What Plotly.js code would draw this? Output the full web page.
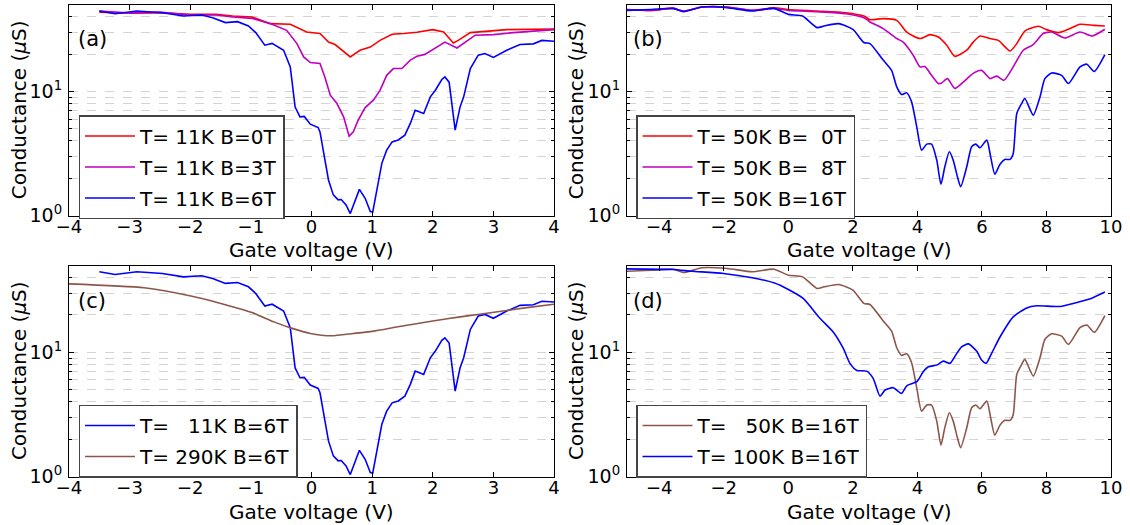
<!DOCTYPE html>
<html>
<head>
<meta charset="utf-8">
<script src="https://cdn.plot.ly/plotly-3.0.1.min.js"></script>
<style>html,body{margin:0;padding:0;background:#fff;}#chart{width:1130px;height:525px;}</style>
</head>
<body>
<div id="chart"></div>
<script>
// ---------- data (gate voltage V, conductance µS) ----------
// Panel (a): T = 11 K
const a_red_v  = [-3.5,-3.0,-2.5,-2.0,-1.57,-1.3,-0.98,-0.68,-0.35,-0.24,-0.08,0.14,0.28,0.39,0.5,0.64,0.8,0.97,1.13,1.33,1.52,1.74,2.0,2.18,2.34,2.42,2.62,2.89,3.22,4.0];
const a_red_g  = [43.6,42.8,43.1,41.8,41.8,40.5,39.8,35.2,34.8,33.0,30.1,29.3,25.0,23.9,21.5,19.0,21.5,22.8,25.8,28.9,29.3,30.0,31.5,30.1,24.6,25.8,29.8,30.5,31.5,31.9];
const a_mag_v  = [-3.5,-3.0,-2.5,-2.0,-1.57,-1.3,-0.98,-0.68,-0.41,-0.24,-0.13,-0.02,0.14,0.22,0.31,0.42,0.53,0.62,0.69,0.77,0.885,1.02,1.13,1.24,1.35,1.49,1.63,1.74,1.87,2.01,2.2,2.4,2.51,2.7,3.0,3.33,4.0];
const a_mag_g  = [44.5,42.8,43.6,41.3,41.3,39.8,38.8,35.2,31.1,24.3,19.0,17.1,16.8,13.1,9.34,8.0,6.25,4.37,4.73,5.88,7.43,8.51,10.2,13.5,15.3,15.3,17.9,19.2,19.9,22.0,25.0,22.4,24.3,28.4,28.7,29.8,31.5];
const a_blue_v = [-3.5,-3.24,-2.88,-2.46,-2.11,-1.81,-1.63,-1.42,-1.22,-1.04,-0.92,-0.77,-0.65,-0.46,-0.35,-0.27,-0.19,-0.12,-0.02,0.11,0.14,0.2,0.28,0.36,0.44,0.49,0.57,0.64,0.72,0.79,0.885,0.97,1.01,1.09,1.16,1.24,1.33,1.43,1.54,1.63,1.71,1.85,1.96,2.04,2.15,2.2,2.27,2.37,2.45,2.51,2.62,2.75,2.86,3.0,3.22,3.44,3.66,3.8,4.0];
const a_blue_g = [44.5,42.3,44.5,43.1,40.5,41.3,39.3,35.9,36.5,33.7,29.8,23.6,24.4,21.5,15.8,7.5,6.25,6.3,5.46,5.13,4.73,3.17,1.94,1.47,1.34,1.35,1.22,1.04,1.34,1.63,1.38,1.08,1.07,1.71,2.64,3.37,3.93,4.07,4.45,5.53,7.07,6.65,9.05,10.2,12.5,13.1,11.9,4.88,7.49,9.05,15.3,19.6,20.2,18.8,21.5,23.9,24.2,25.8,25.4];
// Panel (c): T = 290 K, B = 6 T (the 11 K curve is a_blue)
const c_brown_v = [-4.0,-2.76,-1.99,-1.45,-0.98,-0.62,-0.32,-0.02,0.33,0.69,1.05,1.4,2.0,2.48,3.07,3.55,4.0];
const c_brown_g = [35.6,33.1,28.4,24.4,20.9,17.6,15.6,14.2,13.6,14.2,14.9,16.0,17.9,19.4,21.2,22.9,24.4];
// Panel (b): T = 50 K
const b_red_v  = [-5,-4.24,-3.57,-3.24,-2.68,-1.9,-1.12,-0.45,0,0.89,1.78,2.34,2.53,2.94,3.36,3.67,4.08,4.39,4.65,4.91,5.16,5.53,5.73,5.94,6.25,6.51,6.87,7.08,7.33,7.75,8.0,8.37,8.73,9.04,9.48,9.81];
const b_red_g  = [45.8,45.0,46.7,44.5,47.9,47.9,45.0,47.3,45.8,44.5,43.1,40.5,37.9,38.6,37.4,30.1,26.7,28.7,27.5,23.6,19.2,21.5,25.0,28.0,26.7,25.8,21.2,24.3,30.7,33.5,31.5,29.8,32.1,34.8,34.1,33.7];
const b_mag_v  = [-5,-4.24,-3.57,-3.24,-2.68,-1.9,-1.12,-0.45,0,0.89,1.78,2.34,2.53,2.94,3.36,3.56,3.87,4.08,4.23,4.44,4.65,4.75,4.93,5.16,5.42,5.73,5.99,6.25,6.46,6.68,6.97,7.28,7.59,7.9,8.16,8.57,9.04,9.42,9.81];
const b_mag_g  = [45.8,45.0,46.7,44.5,47.9,47.9,45.0,46.7,45.0,43.9,42.3,39.3,36.3,32.1,26.7,25.0,19.6,15.8,15.9,13.5,11.6,11.7,12.7,10.6,11.9,14.0,14.8,12.7,13.3,12.3,15.8,21.5,23.9,29.3,30.1,27.0,30.1,28.0,31.7];
// T = 50 K, B = 16 T (blue in b, brown in d)
const b_blue_v = [-5,-4.24,-3.57,-3.24,-2.68,-1.9,-1.12,-0.45,0,0.44,0.89,1.11,1.56,2.0,2.34,2.53,2.94,3.2,3.36,3.51,3.67,3.82,3.98,4.13,4.29,4.44,4.6,4.73,4.85,4.99,5.11,5.24,5.34,5.53,5.68,5.81,5.94,6.15,6.27,6.4,6.56,6.71,6.87,6.97,7.08,7.23,7.33,7.59,7.8,7.95,8.16,8.47,8.68,9.04,9.25,9.48,9.81];
const b_blue_g = [45.0,45.8,46.7,43.9,47.9,47.3,44.5,46.7,41.8,40.5,32.7,33.7,35.2,31.7,24.8,24.3,17.9,14.8,10.9,9.46,9.75,8.25,5.19,3.37,3.77,3.77,2.8,1.79,2.48,3.27,2.8,2.06,1.71,2.48,3.59,3.77,3.52,4.06,2.98,2.16,2.6,2.84,2.84,3.17,6.65,8.0,8.79,6.45,9.05,12.7,14.1,13.5,11.6,15.8,16.6,14.5,19.8];
// Panel (d): T = 100 K, B = 16 T
const d_blue_v = [-5,-3.57,-3.0,-2.01,-1.12,-0.45,0,0.46,0.98,1.39,1.7,1.91,2.12,2.43,2.63,2.84,3.0,3.25,3.51,3.67,3.98,4.18,4.34,4.6,4.8,5.01,5.22,5.37,5.58,5.84,5.99,6.13,6.3,6.56,6.97,7.39,7.7,8.42,8.94,9.36,9.81];
const d_blue_g = [47.0,46.4,45.0,43.1,39.8,36.3,32.1,27.2,18.8,14.6,10.8,8.16,7.16,7.07,6.18,4.45,4.98,5.2,4.68,5.39,5.81,6.98,7.66,7.9,8.51,8.16,9.82,11.1,11.7,10.2,8.67,8.16,9.82,13.3,19.3,22.8,23.7,23.4,25.2,27.0,30.6];

const yTickVals = [1, 10];
const yTickText = ['10<sup>0</sup>', '10<sup>1</sup>'];
const yMinorVals = [2,3,4,5,6,7,8,9,20,30,40];
const panelLabels = ['(a)', '(b)', '(c)', '(d)'];
const xTitle = 'Gate voltage (V)';
const yTitle = 'Conductance (<i>\u03bc</i>S)';

// ---------- styling ----------
const RED = '#ff0000', MAG = '#bf00bf', BLUE = '#0000ff', BROWN = '#8c564b';
const FONT = 'DejaVu Sans, sans-serif';
const LW = 1.6;
let grp = 0;

function tr(x, y, name, color, xa, ya, leg, shape) {
  grp += 1;
  return {x: x, y: y, name: name, type: 'scatter', mode: 'lines',
    line: {color: color, width: LW, shape: shape || 'linear', smoothing: 0.6},
    xaxis: xa, yaxis: ya, legend: leg, legendgroup: 'g' + grp, hoverinfo: 'skip'};
}

const data = [
  tr(a_red_v, a_red_g, 'T= 11K B=0T', RED, 'x', 'y', 'legend'),
  tr(a_mag_v, a_mag_g, 'T= 11K B=3T', MAG, 'x', 'y', 'legend'),
  tr(a_blue_v, a_blue_g, 'T= 11K B=6T', BLUE, 'x', 'y', 'legend'),
  tr(b_red_v, b_red_g, 'T= 50K B=\u00a0\u00a00T', RED, 'x2', 'y2', 'legend2', 'spline'),
  tr(b_mag_v, b_mag_g, 'T= 50K B=\u00a0\u00a08T', MAG, 'x2', 'y2', 'legend2', 'spline'),
  tr(b_blue_v, b_blue_g, 'T= 50K B=16T', BLUE, 'x2', 'y2', 'legend2', 'spline'),
  tr(a_blue_v, a_blue_g, 'T=\u00a0\u00a0\u00a011K B=6T', BLUE, 'x3', 'y3', 'legend3'),
  tr(c_brown_v, c_brown_g, 'T= 290K B=6T', BROWN, 'x3', 'y3', 'legend3', 'spline'),
  tr(b_blue_v, b_blue_g, 'T=\u00a0\u00a0\u00a050K B=16T', BROWN, 'x4', 'y4', 'legend4', 'spline'),
  tr(d_blue_v, d_blue_g, 'T= 100K B=16T', BLUE, 'x4', 'y4', 'legend4', 'spline')
];

const W = 1130, H = 525;
const colL = [69 / W, 554 / W], colR = [627 / W, 1111 / W];
const rowT = [1 - 215.7 / H, 1 - 4.7 / H], rowB = [1 - 476.7 / H, 1 - 265.5 / H];

function xax(domain, range, dtick, anchor) {
  return {domain: domain, range: range, dtick: dtick, tick0: 0, anchor: anchor,
    showline: true, mirror: 'allticks', linecolor: 'black', linewidth: 1,
    ticks: 'inside', ticklen: 5, tickwidth: 1, tickcolor: 'black',
    showgrid: false, zeroline: false, automargin: false, ticklabelstandoff: -5,
    tickfont: {size: 18, family: FONT, color: 'black'}};
}
function yax(domain, anchor) {
  return {domain: domain, type: 'log', range: [0, Math.log10(50)], anchor: anchor,
    tickmode: 'array', tickvals: yTickVals, ticktext: yTickText,
    showline: true, mirror: 'allticks', linecolor: 'black', linewidth: 1,
    ticks: 'inside', ticklen: 5, tickwidth: 1, tickcolor: 'black',
    showgrid: true, gridcolor: '#d4d4d4', griddash: 'dash', gridwidth: 1,
    zeroline: false, automargin: false, ticklabelstandoff: 2,
    tickfont: {size: 19, family: FONT, color: 'black'},
    minor: {tickmode: 'array', tickvals: yMinorVals, ticks: 'inside', ticklen: 3,
      tickcolor: 'black', showgrid: true, gridcolor: '#d4d4d4', griddash: 'dash', gridwidth: 1}};
}
function leg(x, y) {
  return {x: x, y: y, xanchor: 'left', yanchor: 'top', bgcolor: 'white',
    bordercolor: '#444', borderwidth: 1.5, itemwidth: 50,
    traceorder: 'grouped', tracegroupgap: 2,
    font: {size: 20, family: FONT, color: 'black'}};
}

// text positions in pixels
const labelPos = [[92, 39], [648, 39], [92, 301], [648, 301]];
const xTitlePos = [[311.5, 250.5], [869, 250.5], [311.5, 511.5], [869, 511.5]];
const yTitlePos = [[19, 110.2], [576, 110.2], [19, 371.1], [576, 371.1]];

function ann(text, p, size, angle) {
  return {text: text, xref: 'paper', yref: 'paper', x: p[0] / W, y: 1 - p[1] / H,
    xanchor: 'center', yanchor: 'middle', showarrow: false, textangle: angle || 0,
    font: {size: size, family: FONT, color: 'black'}};
}
const annotations = []
  .concat(panelLabels.map((t, i) => ann(t, labelPos[i], 21)))
  .concat(xTitlePos.map(p => ann(xTitle, p, 20)))
  .concat(yTitlePos.map(p => ann(yTitle, p, 20, -90)));

const layout = {
  width: W, height: H, margin: {l: 0, r: 0, t: 0, b: 0},
  paper_bgcolor: 'white', plot_bgcolor: 'white',
  font: {family: FONT, color: 'black'},
  xaxis: xax(colL, [-4, 4], 1, 'y'),
  yaxis: yax(rowT, 'x'),
  xaxis2: xax(colR, [-5, 10], 2, 'y2'),
  yaxis2: yax(rowT, 'x2'),
  xaxis3: xax(colL, [-4, 4], 1, 'y3'),
  yaxis3: yax(rowB, 'x3'),
  xaxis4: xax(colR, [-5, 10], 2, 'y4'),
  yaxis4: yax(rowB, 'x4'),
  legend: leg(78.5 / W, 1 - 115 / H),
  legend2: leg(636 / W, 1 - 115 / H),
  legend3: leg(78.5 / W, 1 - 404.5 / H),
  legend4: leg(636 / W, 1 - 404.5 / H),
  annotations: annotations
};

Plotly.newPlot('chart', data, layout, {staticPlot: true, displayModeBar: false});
</script>
</body>
</html>
